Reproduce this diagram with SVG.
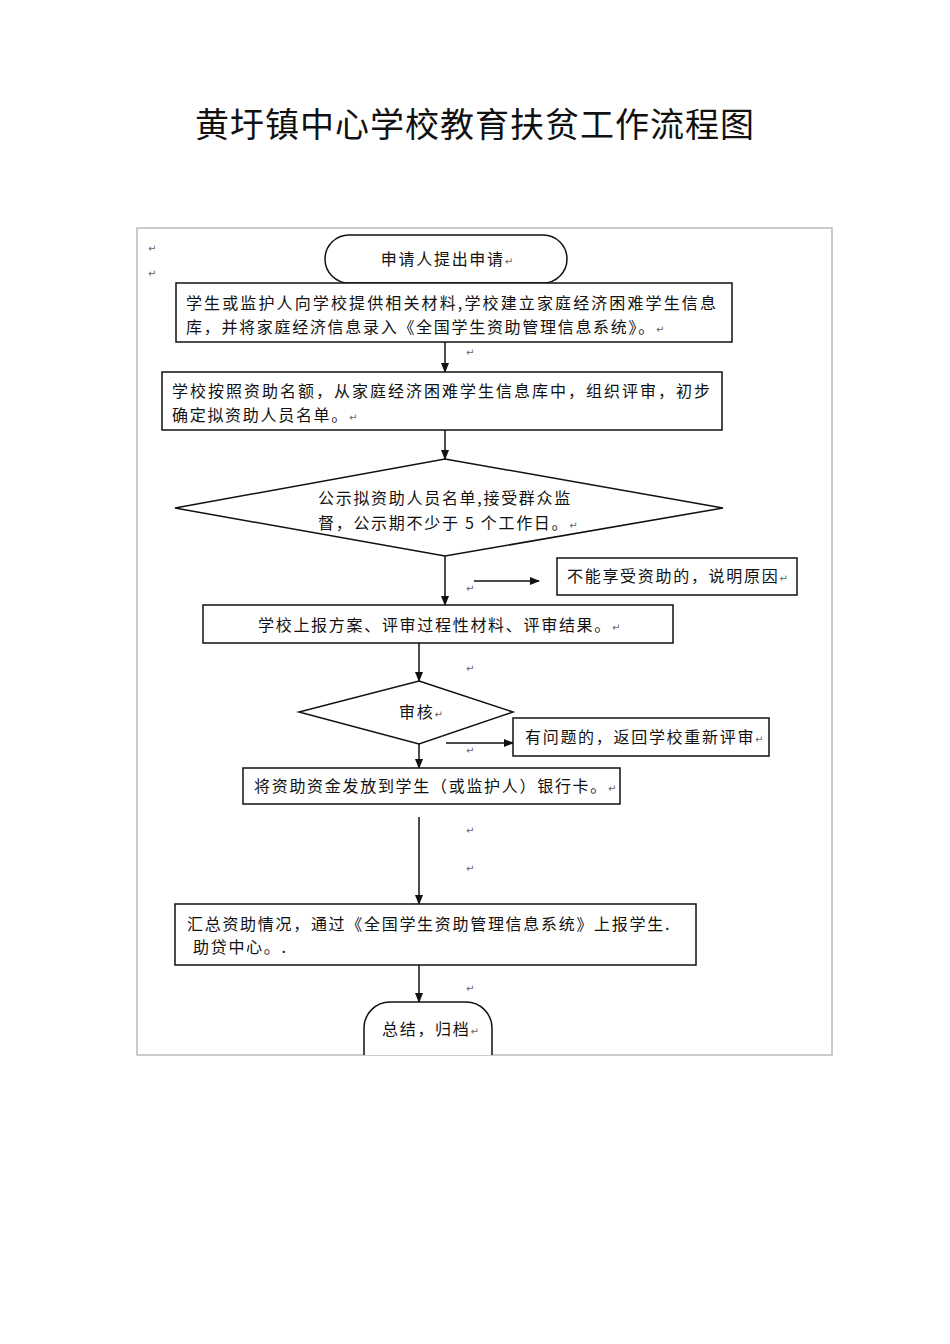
<svg xmlns="http://www.w3.org/2000/svg" width="950" height="1344" viewBox="0 0 950 1344">
<style>
.t{font-family:"Noto Sans CJK SC","Noto Sans",sans-serif;font-size:16px;fill:#111;letter-spacing:1.7px}
.m{font-family:"DejaVu Sans",sans-serif;font-size:10px;fill:#666;letter-spacing:0}
.s{fill:#fff;stroke:#111;stroke-width:1.5}
.c{stroke:#111;stroke-width:1.5;fill:none}
</style>
<defs><marker id="a" markerWidth="10" markerHeight="10" refX="9" refY="5" orient="auto" markerUnits="userSpaceOnUse"><path d="M0,1 L10,5 L0,9 Z" fill="#111"/></marker></defs>
<rect width="950" height="1344" fill="#fff"/>
<text x="475" y="137" text-anchor="middle" style="font-family:'Noto Sans CJK SC',sans-serif;font-size:34px;fill:#111;letter-spacing:1px">黄圩镇中心学校教育扶贫工作流程图</text>
<rect x="137" y="228" width="695" height="827" fill="none" stroke="#bbb" stroke-width="1.5"/>
<g class="m"><text x="148" y="252">↵</text><text x="148" y="277">↵</text><text x="466" y="356">↵</text><text x="466" y="592">↵</text><text x="466" y="672">↵</text><text x="466" y="754">↵</text><text x="466" y="834">↵</text><text x="466" y="872">↵</text><text x="530" y="954">↵</text><text x="466" y="992">↵</text></g>
<g id="connectors">
<line class="c" x1="445" y1="250" x2="445" y2="283" marker-end="url(#a)"/>
<line class="c" x1="445" y1="342" x2="445" y2="372" marker-end="url(#a)"/>
<line class="c" x1="445" y1="430" x2="445" y2="459" marker-end="url(#a)"/>
<line class="c" x1="445" y1="556" x2="445" y2="605" marker-end="url(#a)"/>
<line class="c" x1="474" y1="581" x2="539" y2="581" marker-end="url(#a)"/>
<line class="c" x1="419" y1="643" x2="419" y2="681" marker-end="url(#a)"/>
<line class="c" x1="446" y1="743" x2="513" y2="743" marker-end="url(#a)"/>
<line class="c" x1="419" y1="744" x2="419" y2="768" marker-end="url(#a)"/>
<line class="c" x1="419" y1="817" x2="419" y2="904" marker-end="url(#a)"/>
<line class="c" x1="419" y1="965" x2="419" y2="1002" marker-end="url(#a)"/>
</g>
<g id="start"><rect class="s" x="325" y="235" width="242" height="48" rx="24"/><text class="t" x="447" y="265" text-anchor="middle">申请人提出申请<tspan class="m">↵</tspan></text></g>
<g id="n1"><rect class="s" x="176" y="283" width="556" height="59"/><text class="t" x="186" y="309" textLength="530" style="letter-spacing:0">学生或监护人向学校提供相关材料,学校建立家庭经济困难学生信息</text><text class="t" x="186" y="333">库，并将家庭经济信息录入《全国学生资助管理信息系统》。<tspan class="m">↵</tspan></text></g>
<g id="n2"><rect class="s" x="162" y="372" width="560" height="58"/><text class="t" x="172" y="397" textLength="538" style="letter-spacing:0">学校按照资助名额，从家庭经济困难学生信息库中，组织评审，初步</text><text class="t" x="172" y="421">确定拟资助人员名单。<tspan class="m">↵</tspan></text></g>
<g id="n3"><polygon class="s" points="445,459 723,508 445,556 175,508"/><text class="t" x="318" y="504">公示拟资助人员名单,接受群众监</text><text class="t" x="318" y="529">督，公示期不少于 5 个工作日。<tspan class="m">↵</tspan></text></g>
<g id="n4"><rect class="s" x="557" y="558" width="240" height="37"/><text class="t" x="567" y="582">不能享受资助的，说明原因<tspan class="m">↵</tspan></text></g>
<g id="n5"><rect class="s" x="203" y="605" width="470" height="38"/><text class="t" x="258" y="631">学校上报方案、评审过程性材料、评审结果。<tspan class="m">↵</tspan></text></g>
<g id="n6"><polygon class="s" points="419,681 513,712 419,744 299,712"/><text class="t" x="399" y="718">审核<tspan class="m">↵</tspan></text></g>
<g id="n7"><rect class="s" x="513" y="718" width="256" height="38"/><text class="t" x="525" y="743">有问题的，返回学校重新评审<tspan class="m">↵</tspan></text></g>
<g id="n8"><rect class="s" x="243" y="768" width="377" height="36"/><text class="t" x="254" y="792">将资助资金发放到学生（或监护人）银行卡。<tspan class="m">↵</tspan></text></g>
<g id="n9"><rect class="s" x="175" y="904" width="521" height="61"/><text class="t" x="187" y="930">汇总资助情况，通过《全国学生资助管理信息系统》上报学生.</text><text class="t" x="193" y="953">助贷中心。.</text></g>
<g id="end"><path class="s" d="M364,1055 L364,1028 A26,26 0 0 1 390,1002 L466,1002 A26,26 0 0 1 492,1028 L492,1055"/><text class="t" x="382" y="1035">总结，归档<tspan class="m">↵</tspan></text></g>
</svg>
